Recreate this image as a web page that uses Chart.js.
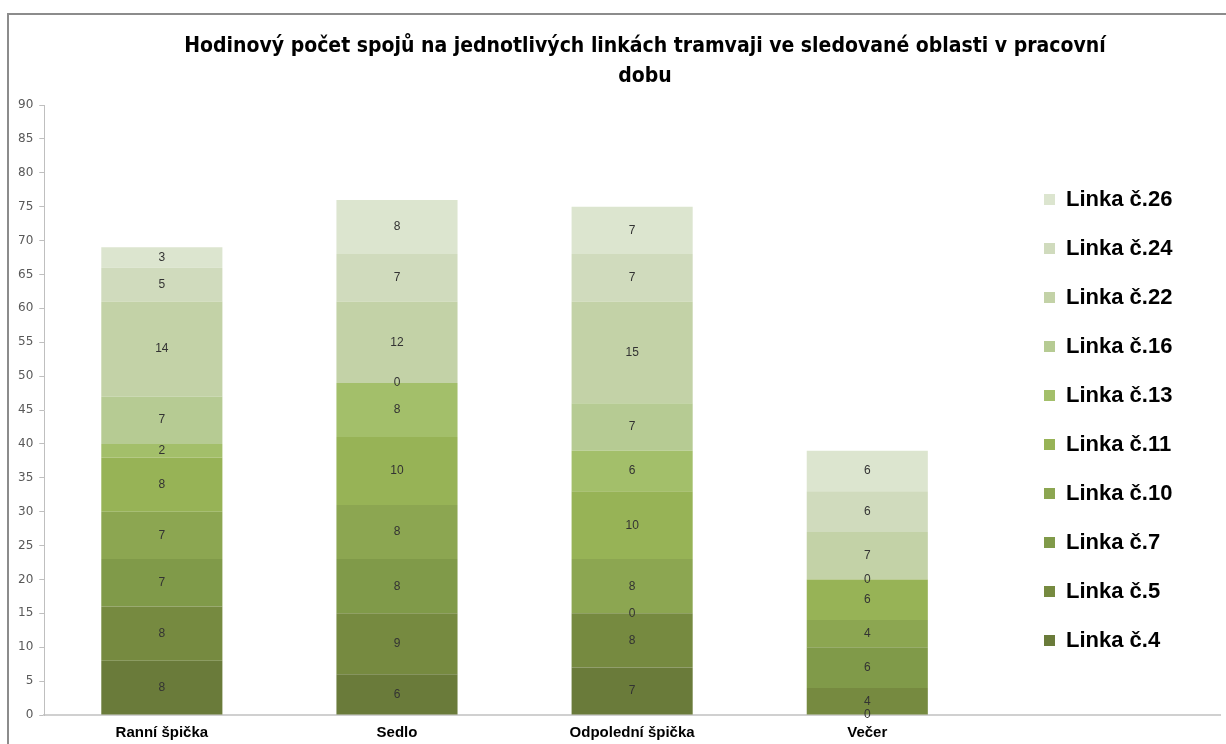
<!DOCTYPE html>
<html lang="cs">
<head>
<meta charset="utf-8">
<title>Hodinový počet spojů</title>
<script src="https://cdn.jsdelivr.net/npm/chart.js@4.4.1/dist/chart.umd.min.js"></script>
<style>
  html, body { margin: 0; padding: 0; background: #fff; overflow: hidden; }
  #wrap { position: relative; width: 1226px; height: 744px; overflow: hidden; }
  #frame { position: absolute; left: 7px; top: 13px; width: 1300px; height: 800px;
           border: 2px solid #8c8c8c; box-sizing: border-box; pointer-events: none; }
  #nadpis { position: absolute; left: 145px; top: 30px; width: 1000px; text-align: center;
            font: bold 21px "Liberation Sans Narrow", "DejaVu Sans Condensed", sans-serif;
            line-height: 30px; color: #000; }
  canvas { position: absolute; left: 0; top: 0; }
</style>
</head>
<body>
<div id="wrap">
  <div id="frame"></div>
  <canvas id="graf" width="1226" height="747"></canvas>
  <div id="nadpis">Hodinový počet spojů na jednotlivých linkách tramvaji ve sledované oblasti v pracovní<br>dobu</div>
</div>
<script>
// obdobi dne (paty sloupec je prazdny, jako v puvodni tabulce)
var obdobi = ['Ranní špička', 'Sedlo', 'Odpolední špička', 'Večer', ''];

// spoje za hodinu pro kazdou linku
var linka4  = [8, 6, 7, 0, null];
var linka5  = [8, 9, 8, 4, null];
var linka7  = [7, 8, 0, 6, null];
var linka10 = [7, 8, 8, 4, null];
var linka11 = [8, 10, 10, 6, null];
var linka13 = [2, 8, 6, 0, null];
var linka16 = [7, 0, 7, null, null];
var linka22 = [14, 12, 15, 7, null];
var linka24 = [5, 7, 7, 6, null];
var linka26 = [3, 8, 7, 6, null];

var nazvy = ['Linka č.4', 'Linka č.5', 'Linka č.7', 'Linka č.10', 'Linka č.11',
             'Linka č.13', 'Linka č.16', 'Linka č.22', 'Linka č.24', 'Linka č.26'];
var hodnoty = [linka4, linka5, linka7, linka10, linka11, linka13, linka16, linka22, linka24, linka26];
var barvy = ['#6a7b3a', '#768a40', '#809a49', '#8ca651', '#97b356',
             '#a3bf6a', '#b6cb93', '#c3d2a7', '#d0dbbd', '#dce5cf'];

var datasets = [];
for (var i = 0; i < nazvy.length; i++) {
  datasets.push({
    label: nazvy[i],
    data: hodnoty[i],
    backgroundColor: barvy[i],
    borderWidth: 0,
    categoryPercentage: 1,
    barPercentage: 0.515
  });
}

// popisky hodnot uprostred kazdeho useku
var popisky = {
  id: 'popisky',
  afterDatasetsDraw: function (chart) {
    var ctx = chart.ctx;
    ctx.save();
    ctx.font = '12px "Liberation Sans", Arial, sans-serif';
    ctx.fillStyle = '#333333';
    ctx.textAlign = 'center';
    ctx.textBaseline = 'middle';
    chart.data.datasets.forEach(function (ds, di) {
      var meta = chart.getDatasetMeta(di);
      meta.data.forEach(function (bar, j) {
        var v = ds.data[j];
        if (v === null || v === undefined) return;
        ctx.fillText(String(v), bar.x, (bar.y + bar.base) / 2);
      });
    });
    ctx.restore();
  }
};

// legenda sedi v prave casti grafu
var posunLegendy = {
  id: 'posunLegendy',
  beforeDraw: function (chart) {
    var lg = chart.legend;
    var a = chart.chartArea;
    lg.left = 1017;
    lg.right = a.right;
    lg.top = a.top + 10;
    lg.bottom = a.bottom + 10;
  }
};

new Chart(document.getElementById('graf'), {
  type: 'bar',
  data: { labels: obdobi, datasets: datasets },
  plugins: [popisky, posunLegendy],
  options: {
    responsive: false,
    animation: false,
    layout: { padding: { top: 105, left: 12, right: 6, bottom: 4 } },
    plugins: {
      title: { display: false },
      tooltip: { enabled: false },
      legend: {
        position: 'chartArea',
        reverse: true,
        labels: {
          boxWidth: 11,
          boxHeight: 11,
          padding: 27,
          color: '#000',
          font: { family: '"Liberation Sans", Arial, sans-serif', size: 22, weight: 'bold' }
        }
      }
    },
    scales: {
      x: {
        stacked: true,
        grid: { display: false },
        border: { display: true, color: '#d0d0d0', width: 2 },
        ticks: {
          color: '#000',
          padding: 1,
          maxRotation: 0,
          font: { family: '"Liberation Sans", Arial, sans-serif', size: 15, weight: 'bold' }
        }
      },
      y: {
        stacked: true,
        min: 0,
        max: 90,
        grid: { drawOnChartArea: false, drawTicks: true, tickLength: 5, color: '#bfbfbf' },
        border: { display: true, color: '#bfbfbf', width: 1 },
        ticks: {
          stepSize: 5,
          padding: 6,
          color: '#595959',
          font: { family: '"DejaVu Sans", Verdana, sans-serif', size: 12 }
        }
      }
    }
  }
});
</script>
</body>
</html>
